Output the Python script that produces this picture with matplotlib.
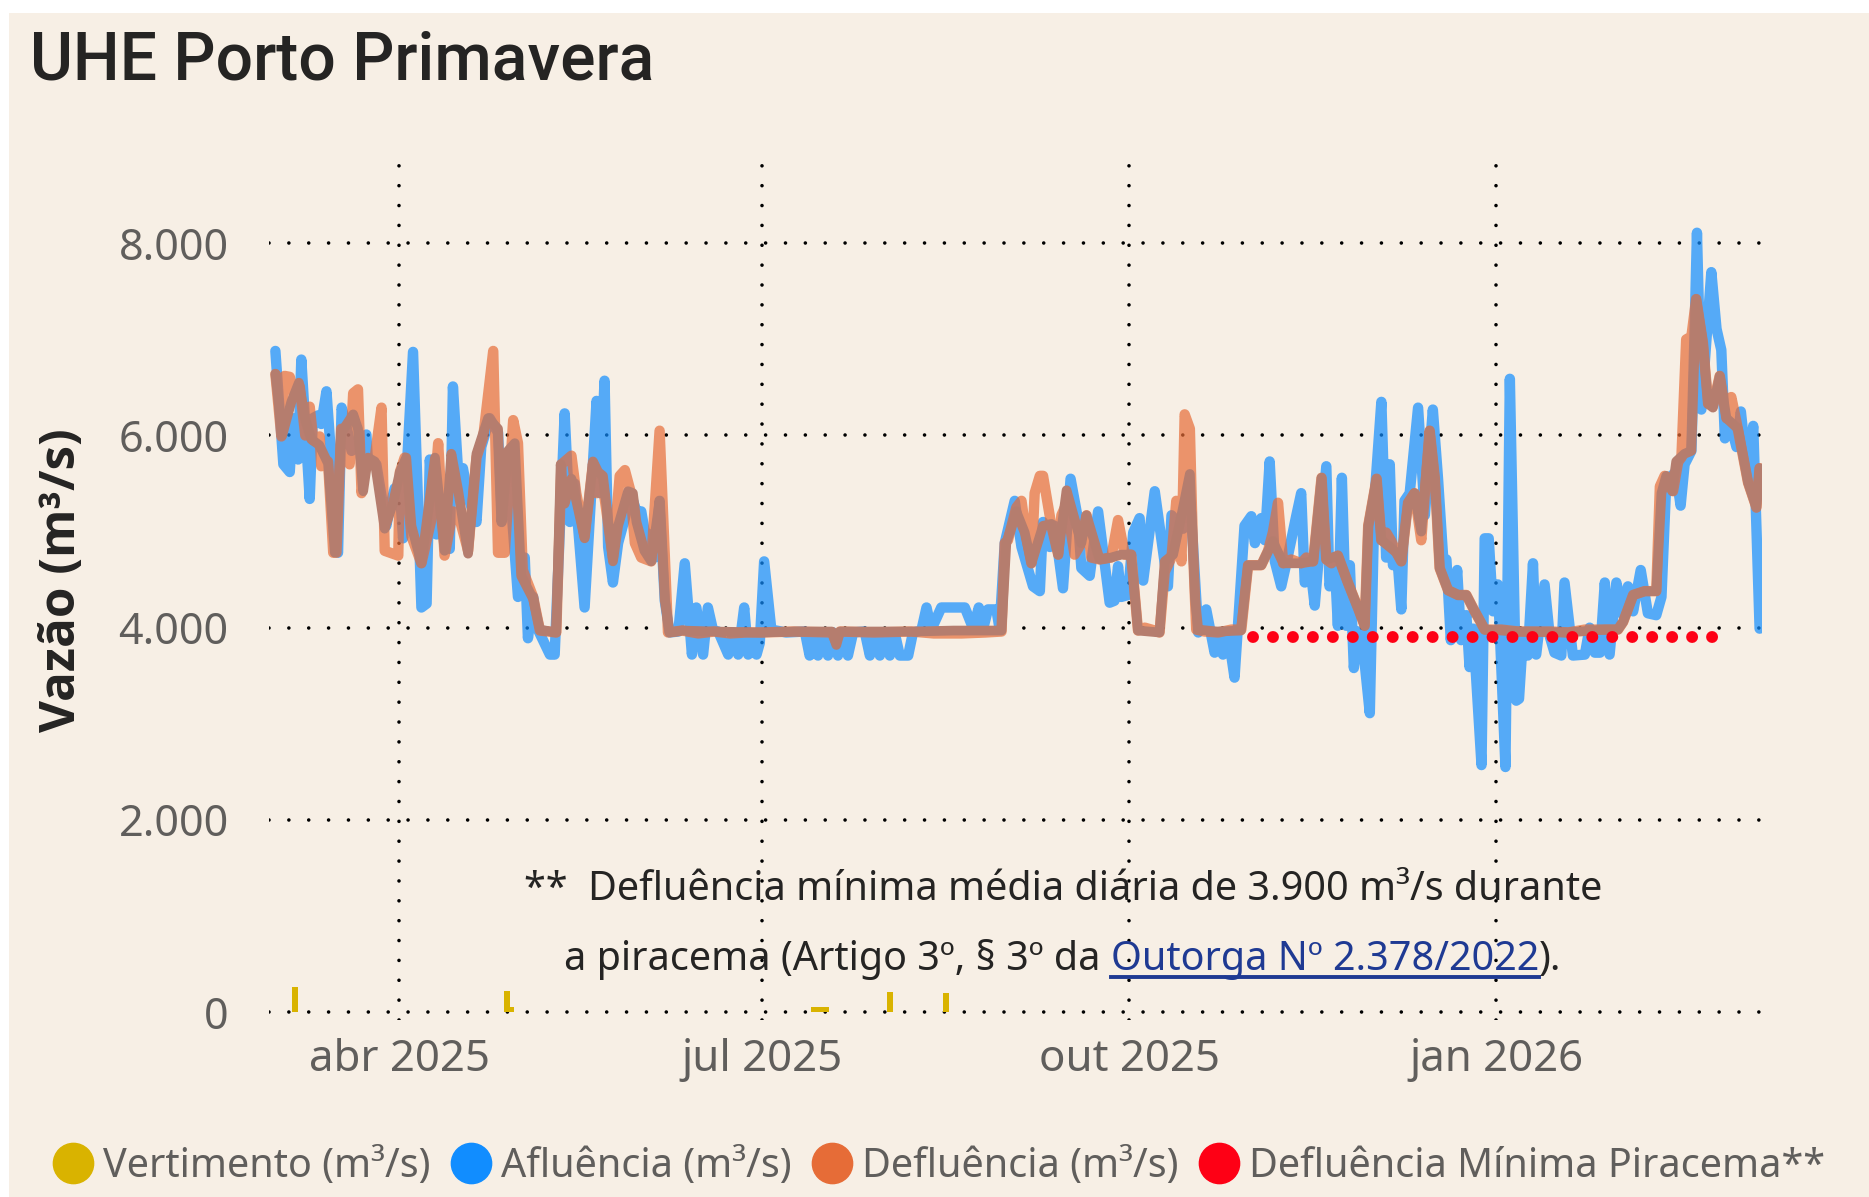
import numpy as np
import pandas as pd
import matplotlib
matplotlib.use("Agg")
import matplotlib.pyplot as plt
from matplotlib.lines import Line2D
from matplotlib.patches import Rectangle

# dias contados a partir de 01/03/2025
inicio = pd.Timestamp("2025-03-01")

afl_dias = [0, 2.0, 3.6, 4.4, 5.7, 6.5, 8.6, 9.4, 10.7, 11.5, 12.8, 15.7, 16.6, 17.8, 19.1, 21.0, 22.8, 23.2,
            25.3, 27.8, 28.7, 29.9, 31.2, 32.0, 34.5, 36.6, 37.9, 38.7, 40.4, 42.0, 43.7, 44.5, 45.8, 47.0,
            48.3, 50.4, 51.6, 53.7, 55.8, 56.7, 58.3, 60.8, 61.6, 62.5, 63.3, 64.6, 65.8, 68.8, 70.0, 72.5,
            73.8, 75.0, 77.5, 80.5, 81.3, 82.5, 83.4, 84.6, 85.9, 87.6, 89.0, 90.5, 91.7, 92.6, 93.8, 95.1,
            96.3, 97.6, 98.8, 101.0, 102.6, 104.4, 105.5, 107.2, 108.4, 109.7, 111.0, 113.5, 114.7, 116.0,
            117.5, 118.5, 119.3, 120.6, 121.4, 122.5, 124.3, 128.0, 132.7, 133.9, 135.1, 136.0, 137.3, 138.5,
            139.8, 141.0, 142.3, 143.5, 144.8, 147.7, 149.0, 150.2, 151.5, 152.7, 154.0, 155.2, 156.5, 158.6,
            159.8, 161.9, 163.2, 164.4, 166.9, 172.8, 174.9, 176.3, 177.4, 178.6, 180.7, 181.5, 182.8, 185.3,
            187.0, 189.9, 191.6, 192.4, 194.1, 195.3, 197.4, 199.3, 201.2, 202.0, 204.1, 206.2, 209.1, 210.3,
            211.2, 212.0, 213.7, 215.0, 216.6, 217.5, 220.4, 223.7, 224.6, 227.5, 228.3, 229.5, 231.3, 233.3,
            235.4, 236.5, 237.5, 238.8, 240.4, 242.9, 244.6, 245.5, 247.1, 248.0, 249.2, 250.5, 252.1, 253.5,
            255.9, 257.1, 258.0, 259.2, 260.5, 263.4, 264.2, 265.5, 266.3, 267.3, 268.4, 269.3, 270.3, 271.2,
            272.2, 274.3, 275.5, 277.2, 278.4, 279.3, 280.1, 281.3, 282.2, 283.0, 284.3, 286.4, 288.1, 290.1,
            291.4, 292.7, 293.5, 294.6, 296.2, 297.2, 298.5, 299.3, 300.2, 302.3, 303.1, 304.1, 305.2, 306.4,
            308.3, 309.4, 311.0, 311.7, 312.7, 313.9, 315.2, 316.0, 318.1, 319.4, 320.6, 322.3, 323.1, 325.2,
            328.2, 329.4, 330.7, 332.0, 333.2, 334.4, 336.1, 337.8, 339.0, 340.3, 342.2, 344.0, 346.1, 347.4,
            348.6, 349.9, 351.0, 352.2, 353.2, 354.9, 355.6, 356.3, 357.4, 359.9, 361.2, 362.4, 363.3, 364.9,
            366.2, 367.3, 369.1, 370.4, 372.0]
afl_vazao = [6880, 5700, 5620, 6180, 5750, 6790, 5340, 6180, 6210, 6120, 6460, 4780, 6290, 6100, 5840, 5900, 6010, 5730,
             5700, 5060, 5250, 5450, 5430, 4930, 6870, 4210, 4250, 5750, 4970, 5210, 4820, 6510, 5620, 5660,
             5360, 5100, 5880, 6180, 6030, 5100, 5730, 4320, 4430, 4730, 3890, 4320, 3980, 3720, 3720, 6230,
             5100, 5500, 4210, 6360, 5400, 6570, 4840, 4470, 4880, 5140, 5400, 5210, 5210, 4990, 4970, 4730,
             5320, 4280, 3950, 3960, 4670, 3720, 4210, 3720, 4210, 3970, 3960, 3720, 3950, 3720,
             4210, 3720, 3910, 3720, 3840, 4690, 3980, 3950, 3960, 3710, 3950, 3710, 3950, 3710,
             3950, 3710, 3950, 3710, 3950, 3960, 3710, 3950, 3710, 3950, 3710, 3950, 3710, 3710,
             3950, 3970, 4210, 3980, 4210, 4210, 3990, 4210, 3990, 4190, 4190, 3990, 4880, 5320,
             4840, 4430, 4380, 5100, 4840, 5060, 4410, 5550, 5120, 4620, 4540, 5210, 4260, 4280,
             4640, 4320, 4340, 4990, 5140, 4490, 5420, 4430, 5170, 5030, 5170, 5200, 3950, 4190,
             3740, 3950, 3720, 3930, 3480, 5060, 5160, 4880, 5140, 4910, 5730, 4690, 4430, 4690,
             5170, 5400, 4470, 4700, 4230, 5680, 4430, 4690, 4020, 5560, 4020, 4650, 3580, 3960,
             3960, 3110, 5360, 6350, 4730, 5700, 4650, 4680, 4190, 5320, 5400, 6290, 5170, 6270,
             5550, 4720, 4710, 3870, 4600, 3870, 4130, 3590, 3990, 2570, 4930, 4930, 4170, 4450,
             2550, 6590, 3240, 3260, 3910, 3710, 4670, 3720, 4450, 3910, 3740, 3710, 4470, 3710,
             3720, 4000, 3740, 3740, 4470, 3720, 4470, 4130, 4430, 4170, 4600, 4150, 4130, 4320,
             5510, 5580, 5620, 5270, 5700, 5840, 6920, 8110, 6270, 7700, 7110, 6890, 5970, 6090,
             5880, 6250, 5550, 6100, 3990]

defl_dias = [0, 1.5, 2.3, 3.6, 4.9, 6.1, 7.5, 8.6, 9.5, 11.1, 11.5, 13.2, 14.5, 15.3, 16.5, 18.6, 19.5, 20.7,
             21.6, 22.8, 24.9, 26.6, 27.4, 30.8, 31.2, 32.4, 34.1, 36.6, 39.5, 40.8, 42.4, 44.5, 45.8, 48.3,
             50.4, 52.1, 54.6, 55.8, 57.5, 59.6, 60.8, 62.0, 64.6, 66.3, 70.4, 71.7, 74.2, 75.4, 77.5, 79.6,
             80.5, 82.0, 84.6, 86.3, 87.6, 89.0, 90.1, 91.7, 94.2, 96.3, 98.4, 102, 106, 110, 114, 118, 122,
             130, 139.5, 140.5, 141.5, 150, 159.4, 165, 172, 178, 182.0, 182.8, 183.6, 185.7, 187.0, 188.2,
             189.5, 190.3, 191.6, 192.4, 194.5, 196.2, 197.0, 198.3, 200.3, 202.0, 203.3, 204.5, 206.6, 209.5,
             211.2, 212.9, 214.5, 216.2, 217.9, 219.6, 221.6, 222.9, 224.6, 225.8, 227.1, 227.9, 229.2, 230.0,
             230.8, 232.9, 236.3, 239.6, 242.1, 243.8, 247.1, 248.8, 250.0, 251.3, 252.6, 254.6, 257.1, 258.4,
             260.1, 262.2, 263.4, 264.7, 266.3, 268.8, 271.3, 273.0, 273.9, 276.0, 277.2, 278.4, 279.7, 281.0,
             282.2, 283.9, 285.5, 287.2, 289.3, 290.6, 291.8, 293.9, 296.4, 298.5, 300.6, 303.1, 307.3, 311.5,
             315.6, 319.8, 324, 328.2, 333.2, 336.5, 337.8, 340.3, 343.2, 346.1, 347.0, 348.2, 350.3, 351.6,
             352.4, 353.6, 354.9, 356.1, 357.8, 359.1, 360.3, 362.0, 363.7, 364.9, 366.2, 369.1, 371.2, 372.0]
defl_vazao = [6640, 5990, 6620, 6610, 6400, 6510, 6000, 6300, 5950, 5990, 5680, 5730, 4780, 4780, 6070, 5700, 6440, 6480,
              5400, 5730, 5770, 6290, 4800, 4750, 5620, 5770, 4950, 4670, 5200, 5920, 4750, 5210, 5190, 4800,
              5770, 5990, 6880, 4780, 4780, 6160, 5920, 4600, 4320, 3970, 3950, 5700, 5790, 5400, 4950, 5710,
              5400, 5500, 4730, 5580, 5640, 5420, 4880, 4730, 4690, 6050, 3950, 3970, 3940, 3960, 3940, 3950, 3950,
              3960, 3950, 3850, 3960, 3950, 3960, 3940, 3940, 3950, 3960, 4880, 4910, 5250, 5320, 4950,
              4670, 5400, 5580, 5580, 5060, 4760, 5170, 5290, 4760, 4880, 5170, 4730, 4710, 4730,
              5120, 4760, 4760, 3970, 4000, 3980, 3950, 4580, 4730, 5320, 4690, 6220, 6070, 4800,
              3980, 3960, 3950, 3980, 3980, 4650, 4650, 4800, 4990, 5300, 4670, 4710, 4670, 4730,
              4690, 5560, 4710, 4670, 4750, 4470, 4210, 4020, 5060, 5550, 4910, 4990, 4900, 4780,
              4690, 5300, 5400, 4910, 6050, 5550, 4620, 4390, 4340, 4340, 4170, 3980, 3980, 3960,
              3960, 3960, 3950, 3980, 3980, 3980, 4060, 4340, 4380, 4380, 5470, 5580, 5420, 5730,
              5770, 7000, 7030, 7420, 6960, 6330, 6310, 6620, 6180, 6400, 6140, 5510, 5250, 5660]

# segunda linha de defluência (traço marrom, fora da legenda)
defl2_dias = [0, 1.7, 4.0, 5.9, 7.4, 9.0, 11.0, 13.2, 14.9, 16.5, 19.5, 20.7, 22.0, 23.2, 24.9, 27.4, 29.5, 31.2,
              32.8, 34.1, 36.6, 40.0, 42.4, 44.1, 45.8, 48.3, 50.4, 53.3, 55.8, 56.7, 58.3, 60.0, 61.6, 64.6,
              66.3, 70.4, 71.5, 72.5, 74.2, 77.5, 79.6, 80.9, 82.1, 84.6, 85.9, 88.4, 89.6, 90.5, 92.5, 94.2,
              96.3, 97.6, 98.8, 102, 110, 122, 130, 139.5, 140.6, 141.5, 150, 160, 170, 182, 183.2, 185.7,
              187.8, 189.5, 192.4, 194.5, 196.2, 198.3, 199.9, 202, 203.3, 206.6, 209.5, 212, 214.5, 216.2,
              221.6, 222.9, 225, 227.1, 229.2, 230.5, 231.3, 236, 242, 243.8, 247.1, 248.8, 250.0, 252.6,
              257.1, 260.1, 262.2, 263.4, 266.3, 268.8, 271.3, 273.0, 273.9, 276.0, 277.2, 281.0, 282.2, 283.9,
              285.5, 287.2, 289.3, 290.6, 291.8, 293.9, 296.4, 298.5, 300.6, 303.1, 311.5, 324, 333.2, 336.5,
              337.8, 340.3, 343.2, 346.1, 347.4, 348.6, 350.1, 351.1, 353.2, 354.9, 356.1, 357.8, 359.1, 360.3,
              362.0, 363.7, 366.6, 369.1, 371.2, 372.0]
defl2_vazao = [6640, 6000, 6350, 6550, 6180, 5960, 5900, 5710, 4780, 6030, 6220, 6070, 5420, 5770, 5730, 5030, 5300, 5620,
               5770, 5060, 4670, 5770, 4800, 5810, 5430, 4770, 5810, 6180, 6070, 5100, 5840, 5920, 4540, 4300,
               3980, 3950, 5700, 5290, 5550, 4930, 5730, 5620, 5580, 4690, 5060, 5420, 5400, 5100, 4800, 4690,
               5320, 4280, 3950, 3970, 3960, 3950, 3960, 3960, 3820, 3960, 3960, 3960, 3970, 3970, 4880, 5210,
               4990, 4670, 5060, 5080, 4760, 5430, 5190, 4880, 5170, 4710, 4730, 4760, 4760, 3970,
               3950, 4690, 4760, 5170, 5600, 4300, 3980, 3960, 3970, 4650, 4650, 4800, 4900, 4670,
               4670, 4690, 5560, 4710, 4750, 4470, 4210, 4020, 5060, 5550, 4910, 4780, 4690, 5300,
               5400, 5000, 6050, 5550, 4620, 4390, 4340, 4340, 4170, 3980, 3960, 3950, 3980, 3980,
               4060, 4340, 4380, 4380, 5400, 5580, 5420, 5730, 5810, 5840, 7420, 6960, 6330, 6290,
               6620, 6180, 6070, 5510, 5250, 5660]

vert_dias = [5, 58, 59, 135, 136, 137, 138, 154, 168]
vert_vazao = [260, 215, 50, 50, 50, 50, 50, 208, 194]

piracema_datas = ["2025-11-01", "2026-02-28"]
piracema_vazao = [3900, 3900]

meses = ["2025-04-01", "2025-07-01", "2025-10-01", "2026-01-01"]
meses_rotulos = ["abr 2025", "jul 2025", "out 2025", "jan 2026"]
y_ticks = [0, 2000, 4000, 6000, 8000]

FUNDO = "#F7EFE5"
ESCURO = "#252423"
CINZA = "#605E5C"
AZUL = "#118DFF"
LARANJA = "#E66C37"
MARROM = "#B57D6E"
AMARELO = "#D9B300"
VERMELHO = "#FE0015"
LINK = "#1F3A93"
FONTE = "Noto Sans"


def datas(dias):
    return inicio + pd.to_timedelta(np.asarray(dias, dtype=float), unit="D")


W, H = 1869, 1197
fig = plt.figure(figsize=(W / 100, H / 100), dpi=100)
fig.patch.set_facecolor("white")
fig.patches.append(Rectangle((9 / W, 0), 1, 1 - 13 / H, transform=fig.transFigure,
                             facecolor=FUNDO, edgecolor="none", zorder=-10))

ax = fig.add_axes([269 / W, 1 - 1020 / H, (1762 - 269) / W, 867 / H])
ax.set_facecolor("none")

ax.bar(datas(vert_dias), vert_vazao, width=1.5, color=AMARELO, zorder=3)
ax.plot(datas(afl_dias), afl_vazao, color=AZUL, alpha=0.7, lw=7.5, solid_joinstyle="round",
        solid_capstyle="round", zorder=4)
ax.plot(datas(defl_dias), defl_vazao, color=LARANJA, alpha=0.7, lw=7.5, solid_joinstyle="round",
        solid_capstyle="round", zorder=5)
ax.plot(datas(defl2_dias), defl2_vazao, color=MARROM, lw=7, solid_joinstyle="round",
        solid_capstyle="round", zorder=6)
ax.plot(pd.to_datetime(piracema_datas), piracema_vazao, color=VERMELHO, lw=8.6,
        linestyle=(0, (0.001, 1.67)), dash_capstyle="round", zorder=7)

ax.set_xlim(inicio - pd.Timedelta(days=1.6), inicio + pd.Timedelta(days=372.6))
ax.set_ylim(-83, 8940)

ax.set_yticks(y_ticks)
ax.set_yticklabels([f"{v:,.0f}".replace(",", ".") for v in y_ticks])
ax.set_xticks(pd.to_datetime(meses))
ax.set_xticklabels(meses_rotulos)
ax.tick_params(length=0, colors=CINZA)
ax.tick_params(axis="y", pad=29, labelsize=31)
ax.tick_params(axis="x", pad=13, labelsize=31.5)
for lab in ax.get_xticklabels() + ax.get_yticklabels():
    lab.set_family(FONTE)

ax.grid(True, color="black", lw=2.6, linestyle=(0, (0.001, 5.5)), dash_capstyle="round", zorder=1)
ax.set_axisbelow(True)
for s in ax.spines.values():
    s.set_visible(False)

fig.text(30 / W, 1 - 80 / H, "UHE Porto Primavera", fontsize=47.5, family="Roboto",
         fontweight="medium", color=ESCURO, va="baseline")
fig.text(63 / W, 1 - 580 / H, "Vazão (m³/s)", rotation=90, ha="center", va="center",
         fontsize=35.5, fontweight="bold", family="Open Sans", color=ESCURO)

# nota sobre a piracema
FS = 28.5
fig.text(1063 / W, 1 - 890 / H, "**  Defluência mínima média diária de 3.900 m³/s durante",
         ha="center", va="center", fontsize=FS, family=FONTE, color=ESCURO)
r = fig.canvas.get_renderer()
partes = [("a piracema (Artigo 3º, § 3º da ", ESCURO), ("Outorga Nº 2.378/2022", LINK), (").", ESCURO)]
y2 = 1 - 970 / H
objs = [fig.text(0, y2, t, color=c, fontsize=FS, family=FONTE, va="baseline") for t, c in partes]
larg = [o.get_window_extent(r).width for o in objs]
x = 1063 - sum(larg) / 2
for o, w in zip(objs, larg):
    o.set_x(x / W)
    if o.get_text().startswith("Outorga"):
        fig.add_artist(Line2D([x / W, (x + w) / W], [y2 - 7 / H, y2 - 7 / H], color=LINK, lw=2.8))
    x += w

handles = [Line2D([], [], marker="o", ls="none", ms=29, color=c) for c in (AMARELO, AZUL, LARANJA, VERMELHO)]
labels = ["Vertimento (m³/s)", "Afluência (m³/s)", "Defluência (m³/s)", "Defluência Mínima Piracema**"]
fig.legend(handles, labels, loc="center left", bbox_to_anchor=(56 / W, 1 - 1167 / H), ncol=4,
           frameon=False, handlelength=0.85, handletextpad=0.33, columnspacing=0.6,
           prop={"family": FONTE, "size": 28.5}, labelcolor=CINZA, borderaxespad=0, borderpad=0)

fig.savefig("out.png", dpi=100, facecolor=fig.get_facecolor())
